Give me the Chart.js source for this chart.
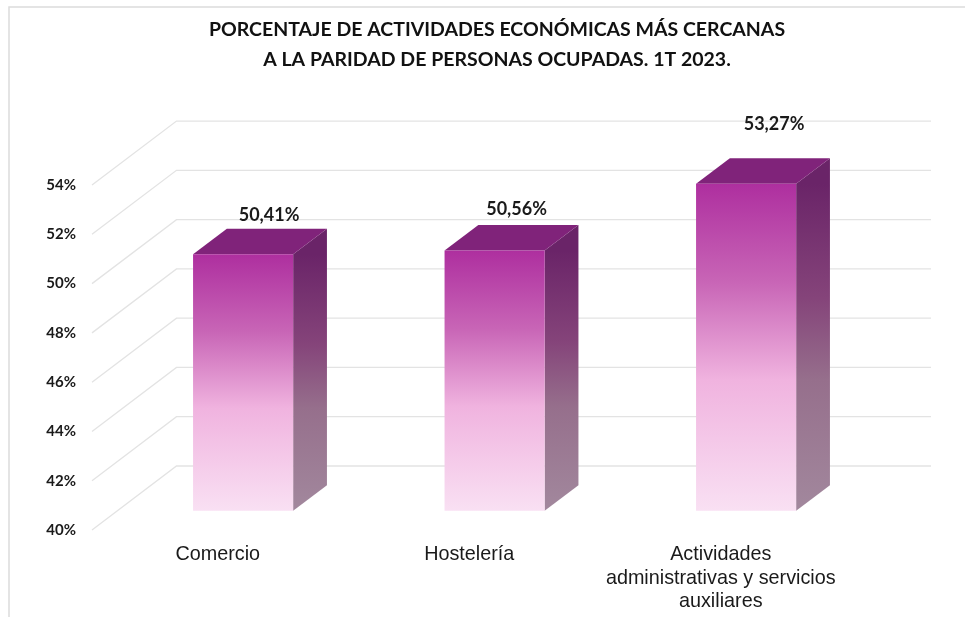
<!DOCTYPE html>
<html>
<head>
<meta charset="utf-8">
<style>html,body{margin:0;padding:0;background:#fff}#w{width:965px;height:617px}</style>
<script src="https://cdn.jsdelivr.net/npm/chart.js@4"></script>
</head>
<body>
<div id="w"><canvas id="c"></canvas></div>
<script>
const categories = ['Comercio', 'Hostelería', ['Actividades', 'administrativas y servicios', 'auxiliares']];
const values = [50.41, 50.56, 53.27];
const titleLines = ['PORCENTAJE DE ACTIVIDADES ECONÓMICAS MÁS CERCANAS', 'A LA PARIDAD DE PERSONAS OCUPADAS. 1T 2023.'];
const labelNudge = [[26, -39], [22, -41], [28, -60]];
const axisMin = 40;
const axisMax = 54;

const DEPTH = {x: 84.5, y: -64};
const BAR_START = 0.3, BAR_DEPTH = 0.4;
const GRID = '#e3e3e3';

function frontGradient(ctx, top, bottom) {
  const g = ctx.createLinearGradient(0, top, 0, bottom);
  g.addColorStop(0, '#ae2f9f');
  g.addColorStop(0.3, '#c865b6');
  g.addColorStop(0.6, '#f0b3df');
  g.addColorStop(1, '#f9e0f3');
  return g;
}
function sideGradient(ctx, top, bottom) {
  const g = ctx.createLinearGradient(0, top, 0, bottom);
  g.addColorStop(0, '#6a2468');
  g.addColorStop(0.35, '#85447a');
  g.addColorStop(0.6, '#966f8c');
  g.addColorStop(1, '#a2889d');
  return g;
}

const scene3d = {
  id: 'scene3d',
  afterLayout(chart) {
    chart.titleBlock.left = 29;
    chart.titleBlock.right = 965;
  },
  beforeDraw(chart) {
    const c = chart.ctx;
    c.save();
    c.strokeStyle = '#dcdcdc';
    c.lineWidth = 1.5;
    c.beginPath();
    c.moveTo(9, 617); c.lineTo(9, 7); c.lineTo(965, 7);
    c.stroke();
    c.restore();
  },
  beforeDatasetsDraw(chart) {
    const c = chart.ctx, y = chart.scales.y, x = chart.scales.x;
    c.save();
    c.strokeStyle = GRID;
    c.lineWidth = 1.3;
    y.ticks.forEach(t => {
      const py = y.getPixelForValue(t.value);
      c.beginPath();
      c.moveTo(x.left, py);
      c.lineTo(x.left + DEPTH.x, py + DEPTH.y);
      c.lineTo(x.right + DEPTH.x, py + DEPTH.y);
      c.stroke();
    });
    const sx = DEPTH.x * BAR_START, sy = DEPTH.y * BAR_START;
    const dx = DEPTH.x * BAR_DEPTH, dy = DEPTH.y * BAR_DEPTH;
    const base = y.getPixelForValue(y.min) + sy;
    chart.getDatasetMeta(0).data.forEach(bar => {
      const p = bar.getProps(['x', 'y', 'width'], true);
      const l = p.x - p.width / 2 + sx, r = p.x + p.width / 2 + sx, t = p.y + sy;
      c.fillStyle = sideGradient(c, t, base);
      c.beginPath();
      c.moveTo(r, t); c.lineTo(r + dx, t + dy); c.lineTo(r + dx, base + dy); c.lineTo(r, base);
      c.closePath(); c.fill();
      c.fillStyle = '#80237a';
      c.beginPath();
      c.moveTo(l, t); c.lineTo(l + dx, t + dy); c.lineTo(r + dx, t + dy); c.lineTo(r, t);
      c.closePath(); c.fill();
    });
    c.restore();
  },
  beforeDatasetDraw(chart) {
    chart.ctx.save();
    chart.ctx.translate(DEPTH.x * BAR_START, DEPTH.y * BAR_START);
  },
  afterDatasetDraw(chart) {
    chart.ctx.restore();
  },
  afterDatasetsDraw(chart) {
    const c = chart.ctx;
    c.save();
    c.font = 'bold 18px Lato';
    c.fillStyle = '#1a1a1a';
    c.textAlign = 'center';
    c.textBaseline = 'middle';
    chart.getDatasetMeta(0).data.forEach((bar, i) => {
      const p = bar.getProps(['x', 'y'], true);
      const n = labelNudge[i];
      c.fillText(values[i].toFixed(2).replace('.', ',') + '%',
        p.x + DEPTH.x * BAR_START + n[0], p.y + DEPTH.y * BAR_START + n[1]);
    });
    c.restore();
  }
};

new Chart(document.getElementById('c'), {
  type: 'bar',
  data: {
    labels: categories,
    datasets: [{
      data: values,
      base: axisMin,
      clip: false,
      borderWidth: 0,
      barPercentage: 1,
      categoryPercentage: 0.398,
      backgroundColor(ctx) {
        const y = ctx.chart.scales.y;
        if (!y || ctx.raw === undefined) return '#ae2f9f';
        const top = y.getPixelForValue(ctx.raw), bottom = y.getPixelForValue(y.min);
        if (!Number.isFinite(top) || !Number.isFinite(bottom)) return '#ae2f9f';
        return frontGradient(ctx.chart.ctx, top, bottom);
      }
    }]
  },
  options: {
    responsive: true,
    maintainAspectRatio: false,
    animation: false,
    events: [],
    layout: {padding: {top: 0, left: 0, right: 118.5, bottom: 0}},
    plugins: {
      legend: {display: false},
      tooltip: {enabled: false},
      title: {
        display: true,
        text: titleLines,
        color: '#111',
        font: {family: 'Lato', weight: 'bold', size: 19.5, lineHeight: 1.54},
        padding: {top: 15, bottom: 110}
      }
    },
    scales: {
      x: {
        grid: {display: false},
        border: {display: false},
        afterFit(s) { s.height = 87; },
        ticks: {
          color: '#1a1a1a',
          autoSkip: false,
          maxRotation: 0,
          minRotation: 0,
          padding: 5,
          font: {family: '"Liberation Sans"', size: 19.8, lineHeight: 1.18}
        }
      },
      y: {
        min: axisMin,
        max: axisMax,
        grid: {display: false},
        border: {display: false},
        afterFit(s) { s.width = 92; },
        ticks: {
          stepSize: 2,
          color: '#1a1a1a',
          padding: 8,
          font: {family: 'Lato', weight: 'bold', size: 15},
          callback: v => v + '%'
        }
      }
    }
  },
  plugins: [scene3d]
});
</script>
</body>
</html>
